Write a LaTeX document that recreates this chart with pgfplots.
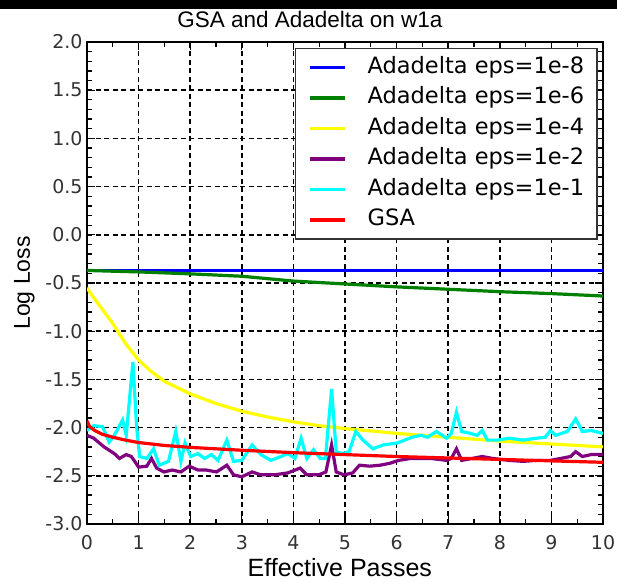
\documentclass[border=0pt]{standalone}
\usepackage{fontspec}
\setmainfont{Liberation Sans}
\newfontfamily\dejavu{DejaVu Sans}
\usepackage{pgfplots}
\pgfplotsset{compat=1.18}
\definecolor{cBlue}{RGB}{0,0,255}
\definecolor{cGreen}{RGB}{0,128,0}
\definecolor{cYellow}{RGB}{255,255,0}
\definecolor{cPurple}{RGB}{128,0,128}
\definecolor{cCyan}{RGB}{0,255,255}
\definecolor{cRed}{RGB}{255,0,0}
\begin{document}
\begin{tikzpicture}
\fill[white] (0pt,0pt) rectangle (617pt,581pt);
\useasboundingbox (0pt,0pt) rectangle (617pt,581pt);
\fill[black] (0pt,571.5pt) rectangle (617pt,581pt);
\begin{axis}[
  at={(87pt,57pt)}, anchor=south west,
  scale only axis, width=516pt, height=482pt,
  xmin=0, xmax=10, ymin=-3, ymax=2,
  xtick={0,1,2,3,4,5,6,7,8,9,10},
  xticklabels={0,1,2,3,4,5,6,7,8,9,10},
  ytick={-3,-2.5,-2,-1.5,-1,-0.5,0,0.5,1,1.5,2},
  yticklabels={-3.0,-2.5,-2.0,-1.5,-1.0,-0.5,0.0,0.5,1.0,1.5,2.0},
  minor x tick num=1, minor y tick num=4,
  tick align=inside,
  major tick length=8pt, minor tick length=5pt,
  every tick/.style={black, line width=1.3pt},
  axis line style={black, line width=1.8pt},
  ticklabel style={font=\fontsize{19}{19}\selectfont\dejavu, text=black!80},
  xticklabel style={yshift=-8pt},
  yticklabel style={xshift=-1pt},
  grid=major,
  major grid style={black, line width=1.6pt, dash pattern=on 5pt off 3.5pt},
  title={GSA and Adadelta on w1a},
  title style={font=\fontsize{22.5}{22.5}\selectfont, at={(rel axis cs:0.432,1)}, anchor=base, yshift=8pt},
  xlabel={Effective Passes},
  xlabel style={font=\fontsize{25}{25}\selectfont, at={(rel axis cs:0.49,0)}, anchor=base, yshift=-52pt},
  ylabel={Log Loss},
  ylabel style={font=\fontsize{23}{23}\selectfont, at={(rel axis cs:0,0.5)}, anchor=base, yshift=57pt},
  legend cell align=left,
  legend image code/.code={\draw[#1] (0pt,0pt) -- (35pt,0pt);},
  legend style={at={(0.99,0.988)}, anchor=north east,
    draw=black!80, line width=1.5pt, fill=white,
    font=\fontsize{22.5}{22.5}\selectfont\dejavu,
    inner xsep=13pt, inner ysep=9.5pt,
    row sep=11.5pt, column sep=21pt,
    nodes={inner sep=0pt, text height=15pt, text depth=4pt}},
]
\addplot[cBlue, line width=3.2pt] coordinates {(0,-0.37) (2.5,-0.37) (5,-0.37) (7.5,-0.37) (10,-0.37)};
\addlegendentry{Adadelta eps=1e-8}
\addplot[cGreen, line width=3.2pt] coordinates {(0,-0.37) (1,-0.385) (2,-0.405) (3,-0.43) (4,-0.48) (5,-0.51) (6,-0.54) (7,-0.565) (8,-0.59) (9,-0.61) (10,-0.635)};
\addlegendentry{Adadelta eps=1e-6}
\addplot[cYellow, line width=3.2pt] coordinates {(0,-0.55) (0.1,-0.63) (0.25,-0.74) (0.5,-0.92) (0.75,-1.13) (1.0,-1.30) (1.25,-1.42) (1.5,-1.52) (2,-1.65) (2.5,-1.75) (3,-1.83) (3.5,-1.89) (4,-1.94) (4.5,-1.98) (5,-2.01) (6,-2.06) (7,-2.10) (8,-2.14) (9,-2.17) (10,-2.20)};
\addlegendentry{Adadelta eps=1e-4}
\addplot[cPurple, line width=3.2pt] coordinates {(0,-2.08) (0.13,-2.11) (0.33,-2.20) (0.53,-2.27) (0.63,-2.32) (0.76,-2.28) (0.86,-2.30) (1.0,-2.41) (1.16,-2.40) (1.25,-2.32) (1.35,-2.42) (1.49,-2.46) (1.65,-2.44) (1.82,-2.46) (1.98,-2.40) (2.15,-2.44) (2.31,-2.44) (2.51,-2.46) (2.71,-2.39) (2.84,-2.49) (3.0,-2.51) (3.2,-2.46) (3.37,-2.49) (3.63,-2.49) (3.89,-2.47) (4.13,-2.42) (4.26,-2.49) (4.49,-2.49) (4.63,-2.46) (4.74,-2.18) (4.83,-2.46) (4.98,-2.49) (5.15,-2.47) (5.28,-2.39) (5.48,-2.40) (5.68,-2.39) (5.87,-2.37) (6.04,-2.34) (6.27,-2.32) (6.47,-2.32) (6.67,-2.32) (6.97,-2.34) (7.06,-2.32) (7.16,-2.22) (7.26,-2.34) (7.46,-2.32) (7.66,-2.30) (7.86,-2.32) (8.18,-2.34) (8.45,-2.35) (8.71,-2.34) (8.98,-2.34) (9.18,-2.32) (9.37,-2.30) (9.47,-2.25) (9.60,-2.30) (9.77,-2.28) (10,-2.28)};
\addlegendentry{Adadelta eps=1e-2}
\addplot[cCyan, line width=3.2pt] coordinates {(0,-2.03) (0.13,-1.98) (0.3,-1.99) (0.43,-2.15) (0.53,-2.08) (0.69,-1.92) (0.76,-2.08) (0.89,-1.32) (0.96,-1.98) (1.02,-2.30) (1.16,-2.32) (1.29,-2.22) (1.40,-2.39) (1.58,-2.35) (1.72,-2.04) (1.82,-2.35) (1.90,-2.16) (2.01,-2.30) (2.15,-2.27) (2.28,-2.32) (2.41,-2.28) (2.54,-2.34) (2.71,-2.13) (2.84,-2.35) (3.0,-2.34) (3.2,-2.18) (3.37,-2.28) (3.56,-2.34) (3.76,-2.30) (3.89,-2.27) (4.03,-2.32) (4.15,-2.11) (4.26,-2.32) (4.39,-2.23) (4.52,-2.32) (4.62,-2.32) (4.74,-1.60) (4.83,-2.25) (4.95,-2.27) (5.08,-2.25) (5.21,-2.04) (5.35,-2.13) (5.54,-2.22) (5.74,-2.18) (6.01,-2.16) (6.30,-2.10) (6.47,-2.08) (6.60,-2.10) (6.77,-2.04) (6.97,-2.11) (7.06,-2.06) (7.16,-1.84) (7.26,-2.04) (7.43,-2.06) (7.56,-2.08) (7.66,-2.03) (7.76,-2.13) (7.95,-2.13) (8.18,-2.11) (8.45,-2.13) (8.71,-2.11) (8.88,-2.10) (8.98,-2.03) (9.08,-2.08) (9.31,-2.04) (9.47,-1.91) (9.60,-2.04) (9.77,-2.03) (10,-2.06)};
\addlegendentry{Adadelta eps=1e-1}
\addplot[cRed, line width=3.2pt] coordinates {(0,-1.93) (0.05,-1.99) (0.15,-2.03) (0.3,-2.07) (0.5,-2.10) (0.75,-2.13) (1,-2.155) (1.5,-2.185) (2,-2.205) (2.5,-2.22) (3,-2.235) (4,-2.26) (5,-2.28) (6,-2.30) (7,-2.315) (8,-2.33) (9,-2.345) (10,-2.36)};
\addlegendentry{GSA}
\end{axis}
\end{tikzpicture}
\end{document}
